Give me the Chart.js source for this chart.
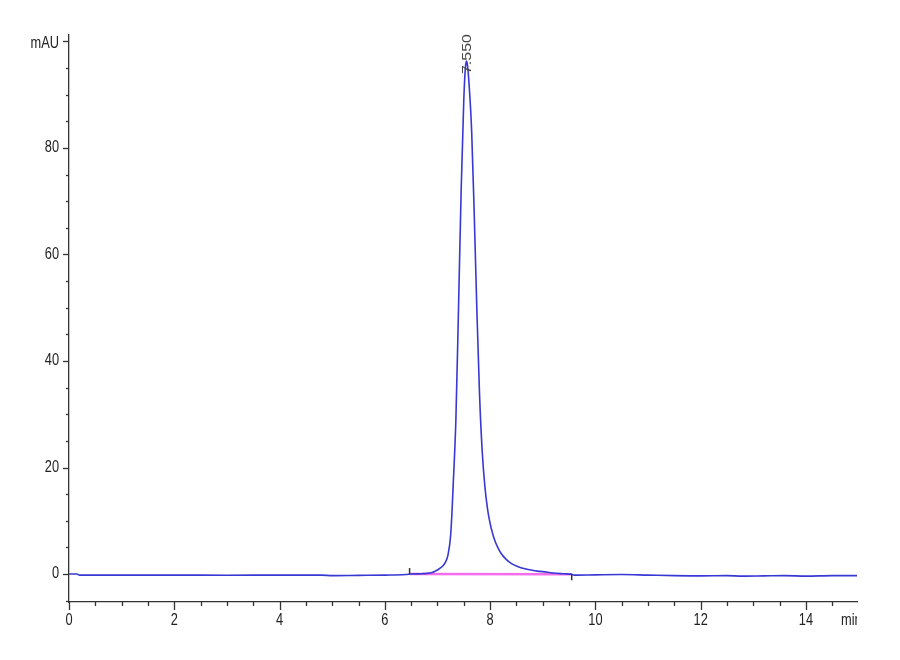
<!DOCTYPE html>
<html>
<head>
<meta charset="utf-8">
<script src="https://cdn.jsdelivr.net/npm/chart.js@4.4.1/dist/chart.umd.min.js"></script>
<style>
html,body{margin:0;padding:0;background:#fff;}
canvas{display:block;}
</style>
</head>
<body>
<canvas id="c" width="900" height="660"></canvas>
<script>
// ---- Data ----
const timeMin = [0, 0.15, 0.2, 1, 2, 3, 4, 4.8, 5.0, 5.5, 6.0, 6.4,
  6.5, 6.6, 6.7, 6.8, 6.9, 6.95, 7.0, 7.05, 7.1, 7.15, 7.2, 7.25, 7.275, 7.3, 7.35, 7.4, 7.45, 7.5, 7.53, 7.55, 7.57,
  7.6, 7.65, 7.7, 7.75, 7.8, 7.85, 7.9, 7.95, 8.0, 8.05, 8.1, 8.15, 8.2, 8.3, 8.4, 8.5, 8.6, 8.7, 8.8, 8.9, 9.0,
  9.2, 9.4, 9.55, 9.6, 10.0, 10.5, 11.0, 11.5, 12.0, 12.5, 12.8, 13.2, 13.6, 14.0, 14.5, 15.0];
const signalMAU = [0, 0, -0.2, -0.2, -0.2, -0.22, -0.2, -0.2, -0.3, -0.25, -0.2, -0.1,
  0.0, 0.03, 0.06, 0.12, 0.3, 0.5, 0.75, 1.1, 1.5, 2.2, 3.6, 7.2, 11.5, 17.0, 29, 50, 72, 89, 95, 96.3, 95.5,
  92, 83, 67, 49, 33.5, 23, 16.5, 12.3, 9.5, 7.5, 6.0, 4.9, 4.0, 2.8, 2.0, 1.5, 1.15, 0.9, 0.7, 0.55, 0.45,
  0.2, 0.05, -0.05, -0.2, -0.15, -0.1, -0.2, -0.3, -0.35, -0.3, -0.4, -0.35, -0.3, -0.4, -0.3, -0.3];
const baselineTime = [6.47, 9.55];
const baselineValue = [0.0, -0.05];
const peakTime = 7.55;
const peakLabel = "7.550";
const xTickValues = [0, 2, 4, 6, 8, 10, 12, 14];
const xTickLabels = ["0", "2", "4", "6", "8", "10", "12", "14"];
const yTickValues = [0, 20, 40, 60, 80, 100];
const yTickLabels = ["0", "20", "40", "60", "80", "mAU"];
const xUnit = "min";

const traceData = timeMin.map((t, i) => ({x: t, y: signalMAU[i]}));
const baseData = baselineTime.map((t, i) => ({x: t, y: baselineValue[i]}));

const SQ = 0.8; // horizontal squeeze of text
const FONT = '16px "Liberation Sans", Arial, sans-serif';

const decor = {
  id: 'decor',
  afterDraw(chart) {
    const ctx = chart.ctx;
    const xs = chart.scales.x, ys = chart.scales.y;
    const ca = chart.chartArea;
    ctx.save();
    ctx.strokeStyle = '#333';
    ctx.lineWidth = 1.3;
    // x ticks
    for (let v = 0; v <= 15.001; v += 0.5) {
      const px = Math.round(xs.getPixelForValue(v)) + 0.5;
      if (px > ca.right + 1) continue;
      const major = Math.abs(v / 2 - Math.round(v / 2)) < 1e-6;
      ctx.beginPath();
      ctx.moveTo(px, ca.bottom);
      ctx.lineTo(px, ca.bottom + (major ? 8 : 4));
      ctx.stroke();
    }
    // y ticks
    for (let v = -5; v <= 100.001; v += 5) {
      const py = Math.round(ys.getPixelForValue(v)) + 0.5;
      const major = v % 20 === 0;
      ctx.beginPath();
      ctx.moveTo(ca.left, py);
      ctx.lineTo(ca.left - (major ? 6 : 3), py);
      ctx.stroke();
    }
    // integration baseline marks
    ctx.lineWidth = 1.5;
    const bx0 = xs.getPixelForValue(baselineTime[0]), by0 = ys.getPixelForValue(baselineValue[0]);
    const bx1 = xs.getPixelForValue(baselineTime[1]), by1 = ys.getPixelForValue(baselineValue[1]);
    ctx.beginPath(); ctx.moveTo(bx0, by0); ctx.lineTo(bx0, by0 - 6); ctx.stroke();
    ctx.beginPath(); ctx.moveTo(bx1, by1); ctx.lineTo(bx1, by1 + 6); ctx.stroke();

    // labels
    ctx.fillStyle = '#222';
    ctx.font = FONT;
    ctx.textAlign = 'center';
    ctx.textBaseline = 'middle';
    xTickValues.forEach((v, i) => {
      const px = xs.getPixelForValue(v);
      ctx.save(); ctx.translate(px, ca.bottom + 19); ctx.scale(SQ, 1);
      ctx.fillText(xTickLabels[i], 0, 0); ctx.restore();
    });
    // unit
    ctx.save();
    ctx.beginPath(); ctx.rect(0, 0, ca.right, chart.height); ctx.clip();
    ctx.translate(ca.right - 16, ca.bottom + 19); ctx.scale(SQ, 1);
    ctx.textAlign = 'left';
    ctx.fillText(xUnit, 0, 0);
    ctx.restore();
    // y labels
    ctx.textAlign = 'right';
    yTickValues.forEach((v, i) => {
      const py = ys.getPixelForValue(v);
      ctx.save(); ctx.translate(ca.left - 10, py + (v === 100 ? 2 : 0)); ctx.scale(SQ, 1);
      ctx.fillText(yTickLabels[i], 0, 0); ctx.restore();
    });
    // peak label (rotated)
    const ppx = xs.getPixelForValue(peakTime);
    const ppy = ys.getPixelForValue(96.3);
    ctx.save();
    ctx.fillStyle = '#444';
    ctx.translate(ppx + 1, ppy + 13);
    ctx.scale(SQ, 1);
    ctx.rotate(-Math.PI / 2);
    ctx.textAlign = 'left';
    ctx.textBaseline = 'middle';
    ctx.font = FONT;
    ctx.fillText(peakLabel, 0, 0);
    ctx.restore();
    ctx.restore();
  }
};

new Chart(document.getElementById('c'), {
  type: 'line',
  data: {
    datasets: [
      {
        data: baseData,
        borderColor: 'rgba(240,60,230,0.75)',
        borderWidth: 2.5,
        pointRadius: 0,
        fill: false,
        order: 2
      },
      {
        data: traceData,
        borderColor: '#3838d4',
        borderWidth: 1.6,
        pointRadius: 0,
        fill: false,
        cubicInterpolationMode: 'monotone',
        order: 1
      }
    ]
  },
  options: {
    responsive: false,
    animation: false,
    devicePixelRatio: 1,
    layout: {padding: {left: 0, top: 35, right: 43, bottom: 0}},
    plugins: {legend: {display: false}, tooltip: {enabled: false}},
    scales: {
      x: {
        type: 'linear', min: 0, max: 14.97,
        grid: {display: false},
        ticks: {display: false},
        border: {display: true, color: '#333', width: 1.3},
        afterFit: s => { s.height = 58; }
      },
      y: {
        type: 'linear', min: -5.25, max: 101.2,
        grid: {display: false},
        ticks: {display: false},
        border: {display: true, color: '#333', width: 1.3},
        afterFit: s => { s.width = 69; }
      }
    }
  },
  plugins: [decor]
});
</script>
</body>
</html>
